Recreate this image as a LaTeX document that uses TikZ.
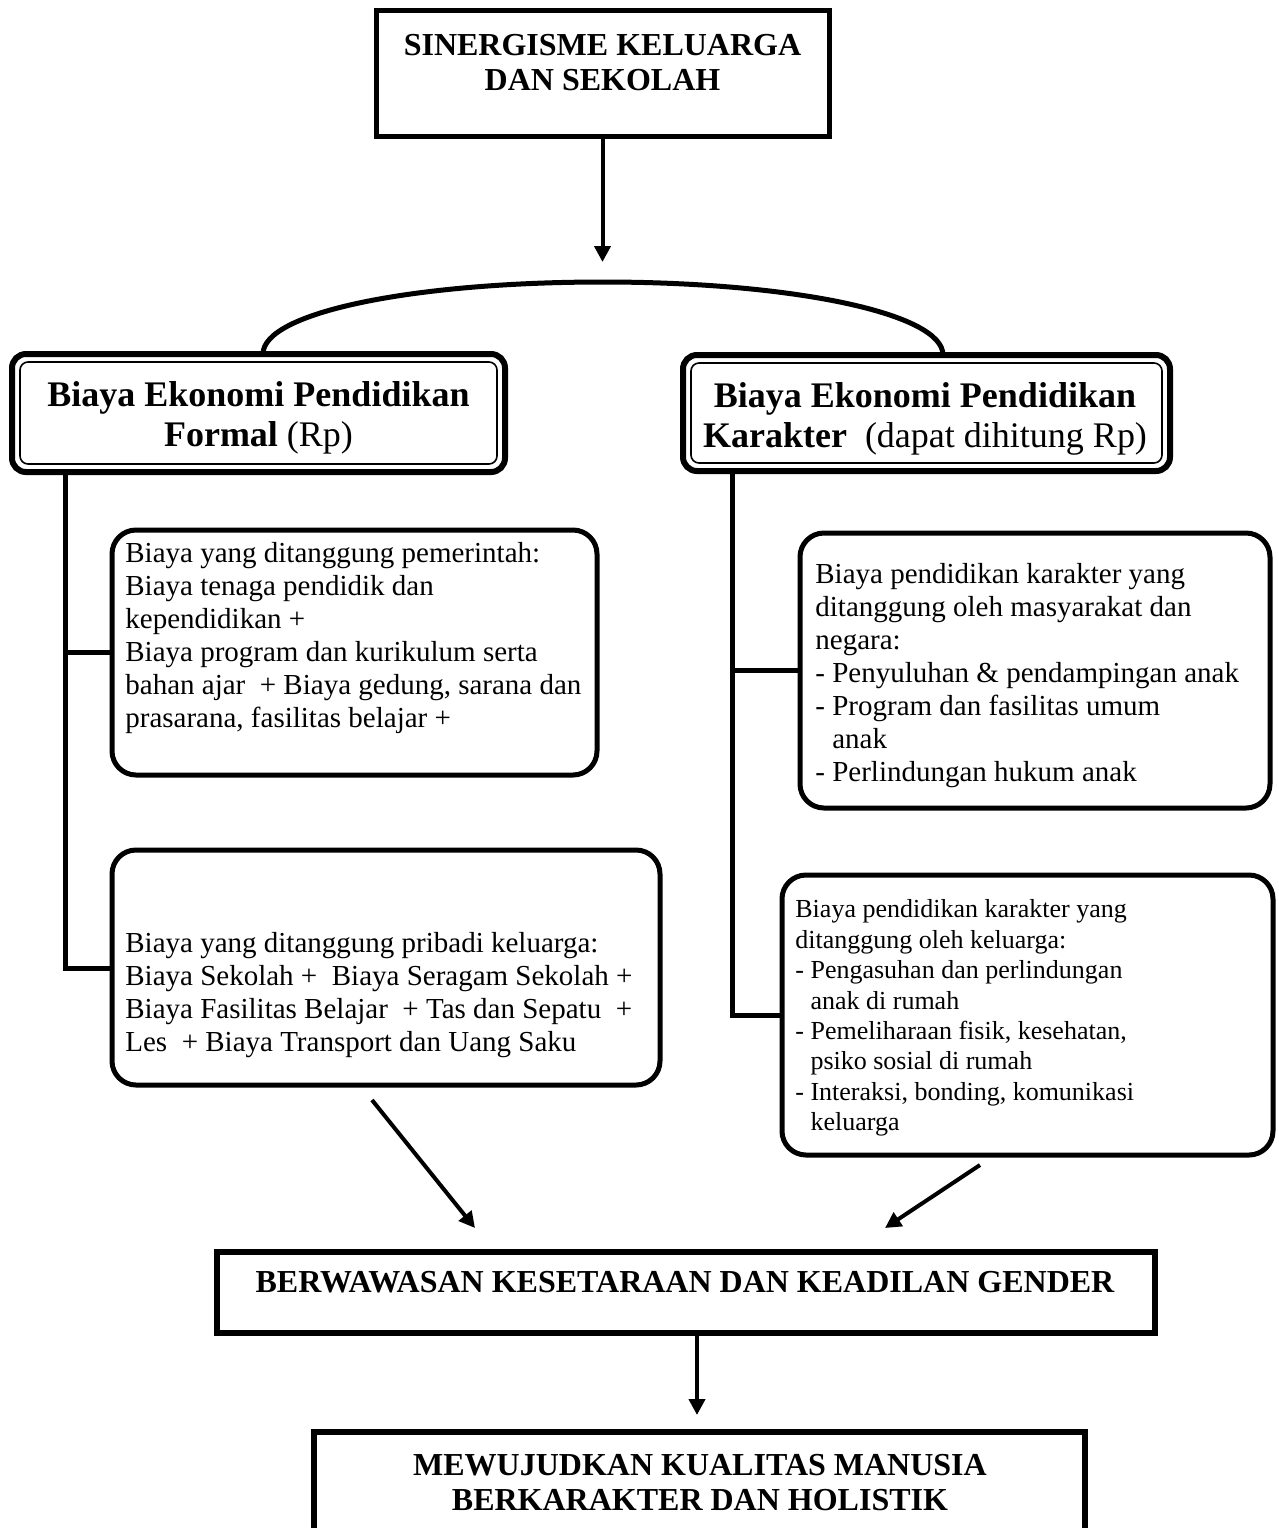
\documentclass[tikz,border=0pt]{standalone}
\usepackage{fontspec}
\setmainfont{Liberation Serif}
\usetikzlibrary{arrows.meta,calc}
\begin{document}
\begin{tikzpicture}[x=0.5pt,y=-0.5pt,
  sqbox/.style={draw, line width=2.5pt, outer sep=0pt, inner sep=0pt},
  thickbox/.style={draw, line width=3pt, outer sep=0pt, inner sep=0pt},
  dblbox/.style={draw, line width=3pt, rounded corners=7pt, outer sep=0pt, inner sep=0pt},
  innerline/.style={line width=0.8pt, rounded corners=4pt},
  rbox/.style={draw, line width=2.5pt, rounded corners=12pt, outer sep=0pt, inner sep=0pt},
  heading/.style={font=\fontsize{16}{17.5}\selectfont\bfseries, align=center, inner sep=0pt},
  subhead/.style={font=\fontsize{18}{20}\selectfont, align=center, inner sep=0pt},
  body/.style={font=\fontsize{14.5}{16.5}\selectfont, align=left, anchor=west, inner sep=0pt},
  bodysmall/.style={font=\fontsize{13}{15.2}\selectfont, align=left, anchor=west, inner sep=0pt},
  tree/.style={line width=2.5pt},
  arcline/.style={line width=2.5pt},
  arr/.style={line width=2pt, -{Triangle[width=8pt,length=8pt]}}]

\useasboundingbox (0,0) rectangle (1279,1528);
\clip (0,0) rectangle (1279,1528);

% top box
\node[sqbox, minimum width=226.5pt, minimum height=63pt] (topbox) at (602.5,73) {};
\node[heading] (toptext) at (602.5,62.5) {SINERGISME KELUARGA\\DAN SEKOLAH};
\coordinate (toptip) at (602.5,262);
\draw[arr] (topbox.south) -- (toptip);

% double boxes
\node[dblbox, minimum width=246.5pt, minimum height=59pt] (L1) at (258.5,413) {};
\draw[innerline] ($(L1.north west)+(8,8)$) rectangle ($(L1.south east)+(-8,-8)$);
\node[subhead] (L1text) at (258.5,418) {\textbf{Biaya Ekonomi Pendidikan}\\\textbf{Formal} (Rp)};

\node[dblbox, minimum width=243.5pt, minimum height=58pt] (R1) at (926.5,413) {};
\draw[innerline] ($(R1.north west)+(8,8)$) rectangle ($(R1.south east)+(-8,-8)$);
\node[subhead] (R1text) at (925,419) {\textbf{Biaya Ekonomi Pendidikan}\\\textbf{Karakter}~ (dapat dihitung Rp)};

% arc joining both
\coordinate (apex) at (603,282);
\draw[arcline] ($(L1.north)+(4.5,0)$) .. controls +(0,-42) and +(-188,0) .. (apex)
  .. controls +(188,0) and +(0,-42) .. ($(R1.north)+(16.5,0)$);

% left content boxes
\node[rbox, minimum width=242.5pt, minimum height=122.5pt] (A) at (354.5,652.5) {};
\node[body] (Atext) at (125,638.5) {Biaya yang ditanggung pemerintah:\\
Biaya tenaga pendidik dan\\
kependidikan +\\
Biaya program dan kurikulum serta\\
bahan ajar~ + Biaya gedung, sarana dan\\
prasarana, fasilitas belajar +};

\node[rbox, minimum width=274pt, minimum height=117.5pt] (B) at (386,967.5) {};
\node[body] (Btext) at (125,995) {Biaya yang ditanggung pribadi keluarga:\\
Biaya Sekolah +~ Biaya Seragam Sekolah +\\
Biaya Fasilitas Belajar~ + Tas dan Sepatu~ +\\
Les~ + Biaya Transport dan Uang Saku};

% right content boxes
\node[rbox, minimum width=235pt, minimum height=137.5pt] (C) at (1035,670.5) {};
\node[body] (Ctext) at (815,676) {Biaya pendidikan karakter yang\\
ditanggung oleh masyarakat dan\\
negara:\\
- Penyuluhan \& pendampingan anak\\
- Program dan fasilitas umum\\
\hphantom{-}\ anak\\
- Perlindungan hukum anak};

\node[rbox, minimum width=245.5pt, minimum height=140pt] (D) at (1027.5,1015) {};
\node[bodysmall] (Dtext) at (795,1018) {Biaya pendidikan karakter yang\\
ditanggung oleh keluarga:\\
- Pengasuhan dan perlindungan\\
\hphantom{-}\ anak di rumah\\
- Pemeliharaan fisik, kesehatan,\\
\hphantom{-}\ psiko sosial di rumah\\
- Interaksi, bonding, komunikasi\\
\hphantom{-}\ keluarga};

% trees
\coordinate (trunkL) at (65,968);
\draw[tree] (trunkL |- L1.south) -- (trunkL) -- (trunkL -| B.west);
\draw[tree] (trunkL |- A.west) -- (A.west);
\coordinate (trunkR) at (732,1015);
\draw[tree] (trunkR |- R1.south) -- (trunkR) -- (trunkR -| D.west);
\draw[tree] (trunkR |- C.west) -- (C.west);

% gender box
\node[thickbox, minimum width=469pt, minimum height=40.5pt] (G) at (686,1292.5) {};
\node[heading] (Gtext) at (685,1282) {BERWAWASAN KESETARAAN DAN KEADILAN GENDER};

\coordinate (ls) at (372,1100);
\coordinate (le) at (475,1228);
\draw[arr] (ls) -- (le);
\coordinate (rs) at (980,1165);
\coordinate (re) at (885,1228);
\draw[arr] (rs) -- (re);

% bottom box
\node[thickbox, minimum width=385.5pt, minimum height=84pt] (M) at (699.5,1516) {};
\node[heading] (Mtext) at (700,1482.5) {MEWUJUDKAN KUALITAS MANUSIA\\BERKARAKTER DAN HOLISTIK};
\coordinate (mtip) at (697,1415);
\draw[arr] ($(G.south)+(11,0)$) -- (mtip);
\end{tikzpicture}
\end{document}
